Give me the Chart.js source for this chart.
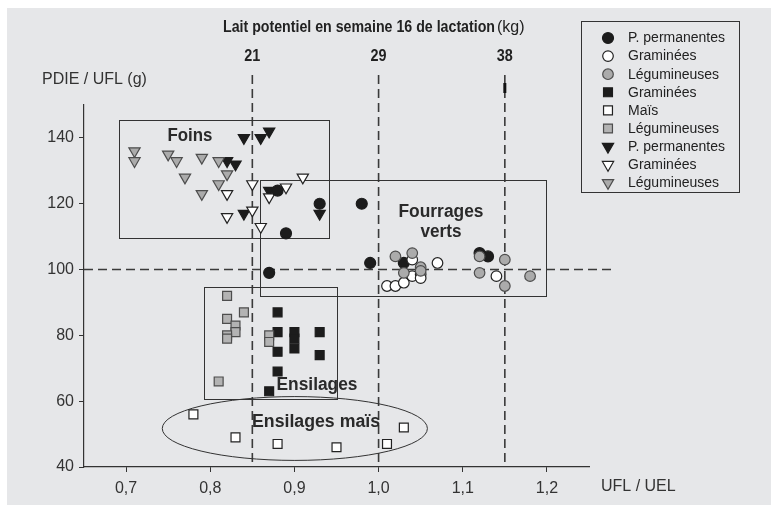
<!DOCTYPE html>
<html><head><meta charset="utf-8">
<script src="https://cdn.jsdelivr.net/npm/chart.js@4.4.0/dist/chart.umd.min.js"></script>
<style>html,body{margin:0;padding:0;background:#fff;}#wrap{width:771px;height:505px;position:relative;}</style>
</head><body><div id="wrap"><canvas id="c" width="771" height="505"></canvas></div>
<script>
// ---------- data ----------
const xTicks = [0.7, 0.8, 0.9, 1.0, 1.1, 1.2];
const yTicks = [40, 60, 80, 100, 120, 140];
const milkX = [0.85, 1.0, 1.15];
const milkLabels = ['21', '29', '38'];
const refY = 100;

// Fourrages verts (circles)
const vertPermX = [0.88, 0.93, 0.89, 0.98, 0.87, 0.99, 1.03, 1.12, 1.13];
const vertPermY = [124, 120, 111, 120, 99, 102, 102, 105, 104];
const vertGramX = [1.01, 1.02, 1.03, 1.04, 1.04, 1.05, 1.05, 1.07, 1.14];
const vertGramY = [95, 95, 96, 98, 103, 98.6, 97.4, 102, 98];
const vertLegX = [1.02, 1.04, 1.03, 1.05, 1.05, 1.12, 1.12, 1.15, 1.15, 1.18];
const vertLegY = [104, 105, 99, 100.7, 99.6, 104, 99, 103, 95, 98];

// Ensilages (squares)
const ensGramX = [0.88, 0.88, 0.88, 0.88, 0.87, 0.90, 0.90, 0.90, 0.93, 0.93];
const ensGramY = [87, 81, 75, 69, 63, 81, 79, 76, 81, 74];
const ensMaisX = [0.78, 0.83, 0.88, 0.95, 1.01, 1.03];
const ensMaisY = [56, 49, 47, 46, 47, 52];
const ensLegX = [0.82, 0.84, 0.82, 0.83, 0.83, 0.82, 0.82, 0.87, 0.87, 0.81];
const ensLegY = [92, 87, 85, 83, 81, 80, 79, 80, 78, 66];

// Foins (triangles)
const foinPermX = [0.84, 0.86, 0.87, 0.82, 0.83, 0.84, 0.87, 0.93];
const foinPermY = [140, 140, 142, 133, 132, 117, 124, 117];
const foinGramX = [0.82, 0.82, 0.85, 0.85, 0.86, 0.87, 0.89, 0.91];
const foinGramY = [123, 116, 126, 118, 113, 122, 125, 128];
const foinLegX = [0.71, 0.71, 0.75, 0.76, 0.79, 0.77, 0.81, 0.82, 0.81, 0.79];
const foinLegY = [136, 133, 135, 133, 134, 128, 133, 129, 126, 123];

const seriesLabels = ['P. permanentes', 'Graminées', 'Légumineuses', 'Graminées', 'Maïs', 'Légumineuses', 'P. permanentes', 'Graminées', 'Légumineuses'];

// group regions in data units [xMin, yMin, xMax, yMax]
const foinsBox = [0.691, 109.5, 0.941, 145.5];
const vertsBox = [0.859, 92, 1.199, 127.2];
const ensBox = [0.7926, 60.7, 0.9507, 94.8];
const maisEllipse = [0.743, 42.0, 1.058, 61.4];

// ---------- styles ----------
const BLACK = '#1c1c1c', GRAY = '#ababab', LINE = '#333';
const styles = [
  {ps: 'circle', r: 5.5, bg: BLACK, bc: BLACK, order: 3},
  {ps: 'circle', r: 5.3, bg: '#ffffff', bc: '#222', order: 2},
  {ps: 'circle', r: 5.3, bg: GRAY, bc: '#4d4d4d', order: 1},
  {ps: 'rect', r: 6.3, bg: BLACK, bc: BLACK, order: 2},
  {ps: 'rect', r: 6.3, bg: '#ffffff', bc: '#222', order: 2},
  {ps: 'rect', r: 6.3, bg: '#b3b3b3', bc: '#4d4d4d', order: 1},
  {ps: 'triangle', r: 6.5, bg: BLACK, bc: BLACK, order: 5},
  {ps: 'triangle', r: 6.5, bg: '#ffffff', bc: '#222', order: 4},
  {ps: 'triangle', r: 6.5, bg: GRAY, bc: '#4d4d4d', order: 4}
];
const seriesXY = [
  [vertPermX, vertPermY], [vertGramX, vertGramY], [vertLegX, vertLegY],
  [ensGramX, ensGramY], [ensMaisX, ensMaisY], [ensLegX, ensLegY],
  [foinPermX, foinPermY], [foinGramX, foinGramY], [foinLegX, foinLegY]
];
const datasets = seriesXY.map((xy, i) => ({
  label: seriesLabels[i],
  data: xy[0].map((x, k) => ({x: x, y: xy[1][k]})),
  pointStyle: styles[i].ps,
  pointRadius: styles[i].r,
  pointRotation: styles[i].ps === 'triangle' ? 180 : 0,
  backgroundColor: styles[i].bg,
  borderColor: styles[i].bc,
  pointBorderWidth: 1.2,
  order: styles[i].order
}));

function dashedV(ctx, x, y1, y2) {
  ctx.beginPath(); ctx.moveTo(x, y1); ctx.lineTo(x, y2); ctx.stroke();
}
function legendMarker(ctx, st, x, y) {
  ctx.fillStyle = st.bg; ctx.strokeStyle = st.bc; ctx.lineWidth = 1.2;
  ctx.beginPath();
  if (st.ps === 'circle') ctx.arc(x, y, st.r, 0, Math.PI * 2);
  else if (st.ps === 'rect') { const s = st.r * Math.SQRT1_2; ctx.rect(x - s, y - s, 2 * s, 2 * s); }
  else { const r = st.r; ctx.moveTo(x, y + r); ctx.lineTo(x - r * 0.866, y - r / 2); ctx.lineTo(x + r * 0.866, y - r / 2); ctx.closePath(); }
  ctx.fill(); ctx.stroke();
}

const decor = {
  id: 'decor',
  beforeDraw(chart) {
    const ctx = chart.ctx;
    ctx.save();
    ctx.fillStyle = '#ffffff'; ctx.fillRect(0, 0, chart.width, chart.height);
    ctx.fillStyle = '#e6e7e9'; ctx.fillRect(7, 8, chart.width - 7, chart.height - 8);
    ctx.restore();
  },
  beforeDatasetsDraw(chart) {
    const ctx = chart.ctx, xs = chart.scales.x, ys = chart.scales.y, ca = chart.chartArea;
    ctx.save();
    // dashed reference lines
    ctx.strokeStyle = '#3a3a3a'; ctx.lineWidth = 1.6; ctx.setLineDash([9, 5]);
    milkX.forEach(v => dashedV(ctx, xs.getPixelForValue(v), 75, ca.bottom));
    ctx.beginPath();
    ctx.moveTo(ca.left, ys.getPixelForValue(refY));
    ctx.lineTo(xs.getPixelForValue(1.28), ys.getPixelForValue(refY));
    ctx.stroke();
    ctx.setLineDash([]);
    ctx.fillStyle = '#111';
    ctx.fillRect(xs.getPixelForValue(1.15) - 1.5, 83, 3, 10);
    // group boxes
    ctx.strokeStyle = LINE; ctx.lineWidth = 1;
    [foinsBox, vertsBox, ensBox].forEach(b => {
      const x1 = xs.getPixelForValue(b[0]), x2 = xs.getPixelForValue(b[2]);
      const y1 = ys.getPixelForValue(b[3]), y2 = ys.getPixelForValue(b[1]);
      ctx.strokeRect(Math.round(x1) + 0.5, Math.round(y1) + 0.5, Math.round(x2 - x1), Math.round(y2 - y1));
    });
    const e = maisEllipse;
    const ex1 = xs.getPixelForValue(e[0]), ex2 = xs.getPixelForValue(e[2]);
    const ey1 = ys.getPixelForValue(e[3]), ey2 = ys.getPixelForValue(e[1]);
    ctx.beginPath();
    ctx.ellipse((ex1 + ex2) / 2, (ey1 + ey2) / 2, (ex2 - ex1) / 2, (ey2 - ey1) / 2, 0, 0, Math.PI * 2);
    ctx.stroke();
    // group labels
    ctx.fillStyle = '#2a2a2a'; ctx.textAlign = 'center'; ctx.textBaseline = 'middle';
    ctx.font = 'bold 18px "Liberation Sans", Arial, sans-serif';
    ctx.fillText('Foins', 190, 136, 45);
    ctx.fillText('Fourrages', 441, 212, 85);
    ctx.fillText('verts', 441, 232, 41);
    ctx.fillText('Ensilages', 317, 385, 81);
    ctx.fillText('Ensilages maïs', 316, 422, 128);
    ctx.restore();
  },
  afterDraw(chart) {
    const ctx = chart.ctx, xs = chart.scales.x;
    ctx.save();
    ctx.fillStyle = '#222'; ctx.textBaseline = 'middle';
    // top title
    ctx.textAlign = 'left';
    ctx.font = 'bold 16px "Liberation Sans", Arial, sans-serif';
    ctx.fillText('Lait potentiel en semaine 16 de lactation', 223, 28, 272);
    ctx.font = '16px "Liberation Sans", Arial, sans-serif';
    ctx.fillText('(kg)', 497, 28, 31);
    // milk labels
    ctx.textAlign = 'center';
    ctx.font = 'bold 16px "Liberation Sans", Arial, sans-serif';
    milkX.forEach((v, i) => ctx.fillText(milkLabels[i], xs.getPixelForValue(v), 57, 16));
    // axis titles
    ctx.fillStyle = '#333'; ctx.textAlign = 'left';
    ctx.font = '16px "Liberation Sans", Arial, sans-serif';
    ctx.fillText('PDIE / UFL (g)', 42, 80);
    ctx.fillText('UFL / UEL', 601, 487);
    // legend
    ctx.strokeStyle = LINE; ctx.lineWidth = 1;
    ctx.strokeRect(581.5, 21.5, 158, 171);
    ctx.font = '14px "Liberation Sans", Arial, sans-serif';
    seriesLabels.forEach((lab, i) => {
      const y = 38 + i * 18.1;
      legendMarker(ctx, styles[i], 608, y);
      ctx.fillStyle = '#222';
      ctx.fillText(lab, 628, y + 0.5, 102);
    });
    ctx.restore();
  }
};

new Chart(document.getElementById('c'), {
  type: 'scatter',
  data: {datasets: datasets},
  options: {
    responsive: false,
    animation: false,
    devicePixelRatio: 1,
    layout: {padding: {left: 0, top: 105, right: 182, bottom: 0}},
    plugins: {legend: {display: false}, tooltip: {enabled: false}},
    scales: {
      x: {
        type: 'linear', min: 0.65, max: 1.25,
        afterBuildTicks: s => { s.ticks = xTicks.map(v => ({value: v})); },
        afterFit: s => { s.height = 38; },
        grid: {display: true, drawOnChartArea: false, drawTicks: true, tickLength: 5, color: LINE, lineWidth: 1},
        border: {display: true, color: LINE, width: 1.2},
        ticks: {color: '#333', font: {family: '"Liberation Sans", Arial, sans-serif', size: 16}, padding: 7,
          maxRotation: 0, autoSkip: false, callback: v => Number(v).toFixed(1).replace('.', ',')}
      },
      y: {
        type: 'linear', min: 40, max: 150,
        afterBuildTicks: s => { s.ticks = yTicks.map(v => ({value: v})); },
        afterFit: s => { s.width = 84; },
        grid: {display: true, drawOnChartArea: false, drawTicks: true, tickLength: 5, color: LINE, lineWidth: 1},
        border: {display: true, color: LINE, width: 1.2},
        ticks: {color: '#333', font: {family: '"Liberation Sans", Arial, sans-serif', size: 16}, padding: 5,
          autoSkip: false, callback: v => String(v)}
      }
    }
  },
  plugins: [decor]
});
</script></body></html>
